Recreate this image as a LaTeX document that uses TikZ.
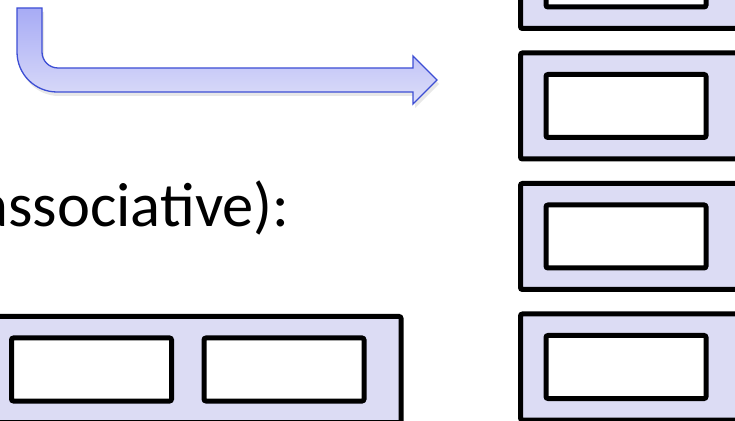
\documentclass[tikz,border=0pt]{standalone}
\usepackage{fontspec}
\setmainfont{Carlito}
\usetikzlibrary{shadows}
\usepackage{xcolor}
\definecolor{slotfill}{HTML}{DCDCF4}
\definecolor{arrowline}{HTML}{3D4ED4}
\definecolor{arrowtop}{HTML}{A7ABF5}
\definecolor{arrowbot}{HTML}{DDDEF9}

\begin{document}
\begin{tikzpicture}[x=1pt, y=1pt,
    setbox/.style={draw, line width=5pt, fill=slotfill, rounded corners=2pt,
      inner sep=0pt, outer sep=0pt},
    slot/.style={draw, line width=5pt, fill=white, rounded corners=2pt,
      inner sep=0pt, outer sep=0pt, minimum width=160pt, minimum height=63pt}]
\useasboundingbox (0,0) rectangle (735,420);
\clip (0,0) rectangle (735,420);

% bent arrow
\path[draw=arrowline, line width=1.3pt, top color=arrowtop, bottom color=arrowbot,
      drop shadow={opacity=0.18, shadow xshift=2pt, shadow yshift=-4pt}]
  (17,412) -- (42,412) -- (42,368) arc (180:270:16) -- (413,352)
  -- (413,364) -- (437,340) -- (413,316) -- (413,328) -- (57,328)
  arc (270:180:40) -- cycle;

\node[anchor=base east, font=\fontsize{62.5}{75}\selectfont] (assoc) at (293,193)
  {associative):};

% two-way set
\node[setbox, minimum width=421pt, minimum height=106pt] (set) at (190.5,50.5) {};
\node[slot] (way1) at (91.5,50.5) {};
\node[slot] (way2) at (284,50.5) {};

% column of single-slot sets
\node[setbox, minimum width=221pt, minimum height=106pt] (row1) at (631,444.5) {};
\node[slot] (line1) at (626,444.5) {};
\node[setbox, minimum width=221pt, minimum height=106pt] (row2) at (631,314) {};
\node[slot] (line2) at (626,314) {};
\node[setbox, minimum width=221pt, minimum height=106pt] (row3) at (631,183.5) {};
\node[slot] (line3) at (626,183.5) {};
\node[setbox, minimum width=221pt, minimum height=106pt] (row4) at (631,53) {};
\node[slot] (line4) at (626,53) {};
\end{tikzpicture}
\end{document}
